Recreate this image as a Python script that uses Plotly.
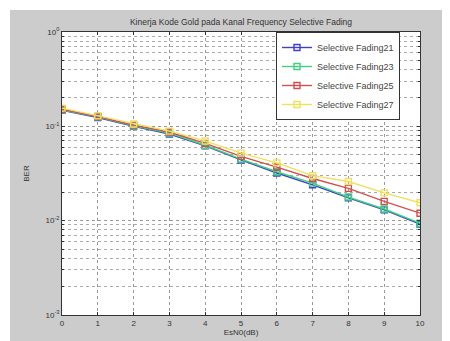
import plotly.graph_objects as go

esn0 = [0, 1, 2, 3, 4, 5, 6, 7, 8, 9, 10]
ber_sf21 = [0.148, 0.124, 0.100, 0.083, 0.062, 0.044, 0.032, 0.024, 0.0175, 0.0130, 0.0092]
ber_sf23 = [0.149, 0.126, 0.101, 0.085, 0.063, 0.045, 0.033, 0.025, 0.0178, 0.0133, 0.0094]
ber_sf25 = [0.152, 0.127, 0.103, 0.087, 0.066, 0.048, 0.037, 0.028, 0.0220, 0.0160, 0.0120]
ber_sf27 = [0.156, 0.129, 0.106, 0.089, 0.070, 0.052, 0.041, 0.030, 0.0260, 0.0197, 0.0155]
names = ["Selective Fading21", "Selective Fading23", "Selective Fading25", "Selective Fading27"]
colors = ["#4040c8", "#40d080", "#d05050", "#f0e060"]
ytickvals = [0.001, 0.01, 0.1, 1]
yticktext = ["10<sup>-3</sup>", "10<sup>-2</sup>", "10<sup>-1</sup>", "10<sup>0</sup>"]

fig = go.Figure()
for name, ys, c in zip(names, [ber_sf21, ber_sf23, ber_sf25, ber_sf27], colors):
    fig.add_trace(go.Scatter(
        x=esn0, y=ys, name=name, mode="lines+markers",
        line=dict(color=c, width=1.4),
        marker=dict(symbol="square-open", size=6, color=c, line=dict(width=1.4, color=c)),
    ))

# page body adds an 8px offset, so figure is 442x333
W, H = 442, 333
L, R, T, B = 54, 30, 24, 26
pw, ph = W - L - R, H - T - B

shapes = [
    dict(type="rect", xref="paper", yref="paper", x0=-L / pw, x1=-(L - 2) / pw,
         y0=-B / ph, y1=1 + T / ph, fillcolor="white", line=dict(width=0), layer="below"),
    dict(type="rect", xref="paper", yref="paper", x0=-L / pw, x1=1 + R / pw,
         y0=1 + (T - 2) / ph, y1=1 + T / ph, fillcolor="white", line=dict(width=0), layer="below"),
]

axis_font = dict(family="Liberation Sans, Arial", size=8, color="#333")
fig.update_layout(
    width=W, height=H,
    margin=dict(l=L, r=R, t=T, b=B, autoexpand=False),
    paper_bgcolor="#cccccc", plot_bgcolor="white",
    shapes=shapes,
    title=dict(text="Kinerja Kode Gold pada Kanal Frequency Selective Fading",
               x=0.5, xref="paper", y=1 - 14 / H, yanchor="middle",
               font=dict(family="Liberation Sans, Arial", size=8.5, color="#333")),
    showlegend=True,
    legend=dict(x=(268 - L) / pw, y=1, xanchor="left", yanchor="top",
                bgcolor="white", bordercolor="#333", borderwidth=1,
                font=dict(family="Liberation Sans, Arial", size=9, color="#444"),
                itemwidth=30),
    font=axis_font,
)
fig.update_xaxes(
    range=[0, 10], dtick=1, showgrid=True, gridcolor="#999", griddash="dot", gridwidth=1,
    showline=True, linecolor="#333", mirror="ticks", ticks="inside", ticklen=3, tickcolor="#333",
    zeroline=False, tickfont=axis_font, automargin=False,
    title=dict(text="EsN0(dB)", standoff=1, font=axis_font),
)
fig.update_yaxes(
    type="log", range=[-3, 0], tickvals=ytickvals, ticktext=yticktext,
    showgrid=True, gridcolor="#999", griddash="dot", gridwidth=1,
    minor=dict(dtick="D1", showgrid=True, gridcolor="#aaa", griddash="dot", ticks="inside", ticklen=2, tickcolor="#333"),
    showline=True, linecolor="#333", mirror="ticks", ticks="inside", ticklen=3, tickcolor="#333",
    zeroline=False, tickfont=axis_font, automargin=False,
    title=dict(text="BER", standoff=14, font=axis_font),
)

fig.write_html("out.html")
